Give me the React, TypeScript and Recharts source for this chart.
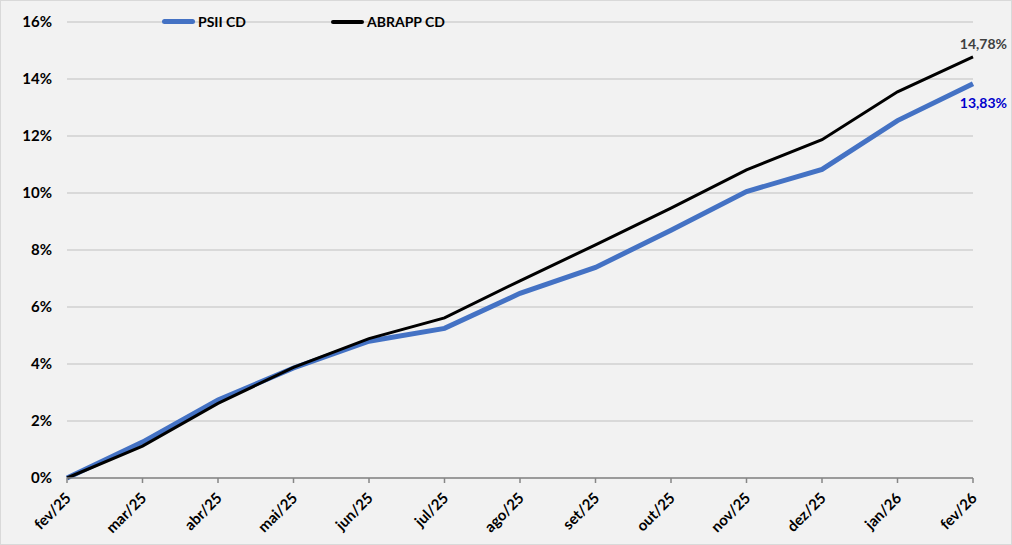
import React from 'react';
import { LineChart, Line, XAxis, YAxis, CartesianGrid, Legend } from 'recharts';

const months = ['fev/25', 'mar/25', 'abr/25', 'mai/25', 'jun/25', 'jul/25', 'ago/25', 'set/25', 'out/25', 'nov/25', 'dez/25', 'jan/26', 'fev/26'];
const psii = [0, 1.26, 2.74, 3.86, 4.8, 5.25, 6.48, 7.39, 8.69, 10.05, 10.83, 12.54, 13.83];
const abrapp = [0, 1.12, 2.62, 3.88, 4.89, 5.62, 6.92, 8.18, 9.47, 10.81, 11.87, 13.55, 14.78];
const yTicks = [0, 2, 4, 6, 8, 10, 12, 14, 16];

const data = months.map((m, i) => ({ month: m, psii: psii[i], abrapp: abrapp[i] }));
const FONT = 'Lato, "Open Sans", sans-serif';
const fmt = (v: number) => v.toFixed(2).replace('.', ',') + '%';

const XTick = (props: any) => {
  const { x, y, payload } = props;
  return (
    <text
      x={x + 5}
      y={y + 14}
      transform={`rotate(-45 ${x + 5} ${y + 14})`}
      textAnchor="end"
      fontFamily={FONT}
      fontWeight={700}
      fontSize={15}
      fill="#000"
    >
      {payload.value}
    </text>
  );
};

const endLabel = (color: string, dy: number, last: number) => (props: any) => {
  const { x, y, index, value } = props;
  if (index !== last) return null;
  return (
    <text
      x={x + 34}
      y={y + dy}
      textAnchor="end"
      fontFamily={FONT}
      fontWeight={700}
      fontSize={14}
      fill={color}
    >
      {fmt(value)}
    </text>
  );
};

const LegendContent = () => (
  <div style={{ display: 'flex', alignItems: 'center', fontFamily: FONT, fontWeight: 700, fontSize: 14, color: '#000' }}>
    <div style={{ display: 'flex', alignItems: 'center', width: 169 }}>
      <span style={{ display: 'inline-block', width: 33, height: 5, borderRadius: 3, background: '#4472c4', marginRight: 3 }} />
      <span>PSII CD</span>
    </div>
    <div style={{ display: 'flex', alignItems: 'center' }}>
      <span style={{ display: 'inline-block', width: 33, height: 4, borderRadius: 2, background: '#000', marginRight: 3 }} />
      <span>ABRAPP CD</span>
    </div>
  </div>
);

export default function App() {
  return (
    <div
      style={{
        position: 'absolute',
        left: 0,
        top: 0,
        width: 1010,
        height: 543,
        background: '#f2f2f2',
        border: '1px solid #d9d9d9',
      }}
    >
      <LineChart width={1010} height={543} data={data} margin={{ top: 21, right: 38, bottom: 0, left: 0 }}>
        <CartesianGrid vertical={false} stroke="#d9d9d9" strokeWidth={2} />
        <XAxis
          dataKey="month"
          interval={0}
          height={66}
          tick={<XTick />}
          tickSize={5}
          axisLine={{ stroke: '#868686', strokeWidth: 1.5 }}
          tickLine={{ stroke: '#868686', strokeWidth: 1.5 }}
        />
        <YAxis
          width={66}
          domain={[0, 16]}
          ticks={yTicks}
          tickFormatter={(v: number) => `${v}%`}
          axisLine={false}
          tickLine={false}
          tickSize={0}
          tickMargin={15}
          tick={{ fontFamily: FONT, fontWeight: 700, fontSize: 15, fill: '#000' }}
        />
        <Legend
          verticalAlign="middle"
          align="center"
          layout="horizontal"
          content={<LegendContent />}
          wrapperStyle={{ top: 12, left: 161, width: 400 }}
        />
        <Line
          type="linear"
          dataKey="psii"
          stroke="#4472c4"
          strokeWidth={5}
          dot={false}
          isAnimationActive={false}
          label={endLabel('#0000cc', 24, psii.length - 1)}
        />
        <Line
          type="linear"
          dataKey="abrapp"
          stroke="#000"
          strokeWidth={3}
          dot={false}
          isAnimationActive={false}
          label={endLabel('#404040', -8, abrapp.length - 1)}
        />
      </LineChart>
    </div>
  );
}
